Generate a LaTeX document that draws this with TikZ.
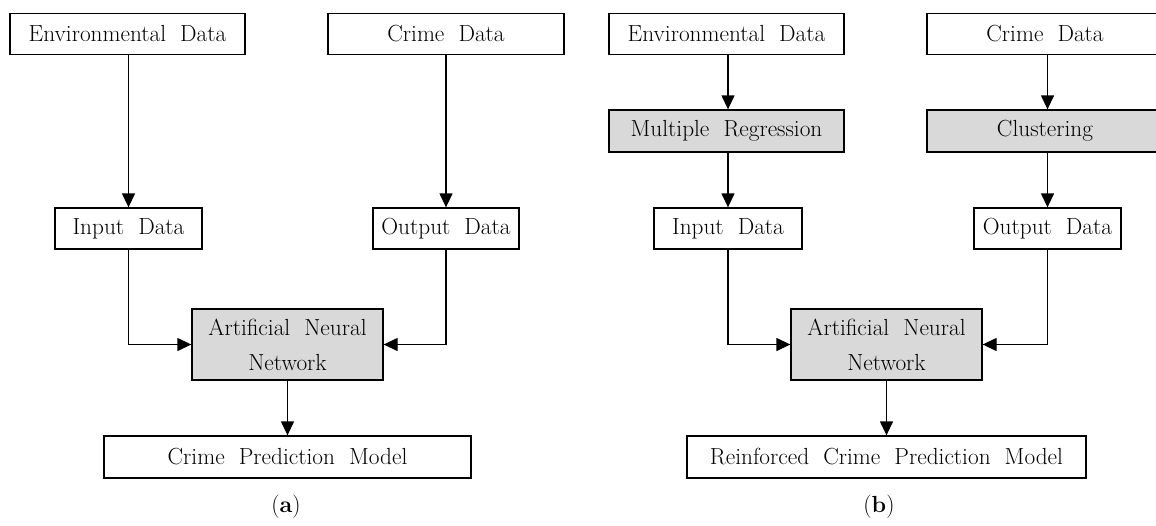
\documentclass[tikz,border=0pt]{standalone}
\usetikzlibrary{arrows.meta}
\definecolor{boxgray}{HTML}{D9D9D9}
\begin{document}
\begin{tikzpicture}[x=1pt,y=-1pt,
  box/.style={draw=black,line width=1.3pt,fill=white,inner sep=0pt,align=center,
    font=\fontsize{23.3}{35}\selectfont,minimum height=41pt},
  graybox/.style={box,fill=boxgray},
  arr/.style={line width=1.3pt,-{Triangle[length=14pt,width=13pt]}},
  lab/.style={font=\fontsize{23.3}{26}\selectfont}]
\useasboundingbox (0,0) rectangle (1156,525);
% panel (a)
\node[box,minimum width=235pt] (envA) at (127.5,34) {Environmental\ \ Data};
\node[box,minimum width=236pt] (crimeA) at (446,34) {Crime\ \ Data};
\node[box,minimum width=147pt] (inA) at (128.5,228.5) {Input\ \ Data};
\node[box,minimum width=146pt] (outA) at (446,228.5) {Output\ \ Data};
\node[graybox,minimum width=191pt,minimum height=71pt] (annA) at (287.5,344.5) {Artificial\ \ Neural\\Network};
\node[box,minimum width=367pt,minimum height=42pt] (cpmA) at (287.5,457) {Crime\ \ Prediction\ \ Model};
\node[lab] (labA) at (286,507) {(\textbf{a})};
\draw[arr] (inA.north |- envA.south) -- (inA.north);
\draw[arr] (outA.north |- crimeA.south) -- (outA.north);
\draw[arr] (inA.south) |- (annA.west);
\draw[arr] (outA.south) |- (annA.east);
\draw[arr] (annA.south) -- (annA.south |- cpmA.north);
% panel (b)
\node[box,minimum width=235pt] (envB) at (726.5,34) {Environmental\ \ Data};
\node[box,minimum width=236pt] (crimeB) at (1045,34) {Crime\ \ Data};
\node[graybox,minimum width=235pt,minimum height=42pt] (mrB) at (726.5,131) {Multiple\ \ Regression};
\node[graybox,minimum width=236pt,minimum height=42pt] (clB) at (1045,131) {Clustering};
\node[box,minimum width=148pt] (inB) at (728,228.5) {Input\ \ Data};
\node[box,minimum width=147pt] (outB) at (1047.5,228.5) {Output\ \ Data};
\node[graybox,minimum width=191pt,minimum height=71pt] (annB) at (886.5,344.5) {Artificial\ \ Neural\\Network};
\node[box,minimum width=399pt,minimum height=42pt] (rcpm) at (886.5,457) {Reinforced\ \ Crime\ \ Prediction\ \ Model};
\node[lab] (labB) at (879,507) {(\textbf{b})};
\draw[arr] (inB.north |- envB.south) -- (inB.north |- mrB.north);
\draw[arr] (outB.north |- crimeB.south) -- (outB.north |- clB.north);
\draw[arr] (inB.north |- mrB.south) -- (inB.north);
\draw[arr] (outB.north |- clB.south) -- (outB.north);
\draw[arr] (inB.south) |- (annB.west);
\draw[arr] (outB.south) |- (annB.east);
\draw[arr] (annB.south) -- (annB.south |- rcpm.north);
\end{tikzpicture}
\end{document}
